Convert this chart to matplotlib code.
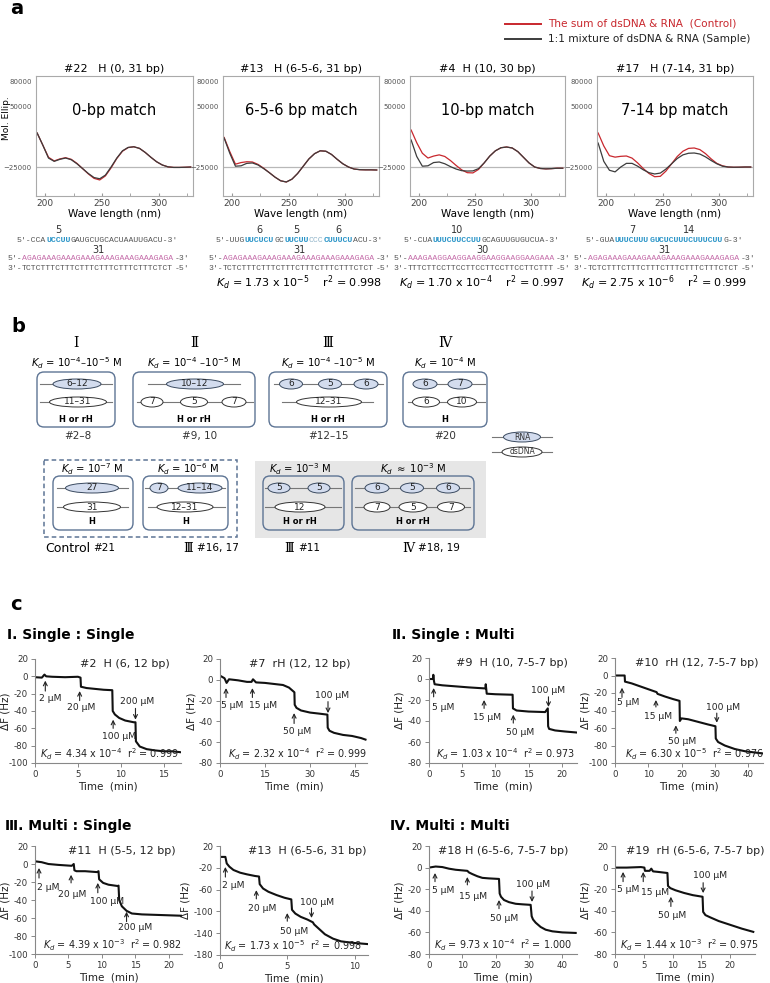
import numpy as np
import matplotlib.pyplot as plt
from matplotlib.patches import Ellipse, FancyBboxPatch, Rectangle

plt.rcParams['axes.unicode_minus'] = False

W, H = 770, 983
RED = '#c8272d'
DARK = '#3c3c3c'
BLUE_TXT = '#2b95c8'
PINK = '#c46aa8'
GRAY_TXT = '#555555'
BOX_EDGE = '#5d7494'
RNA_FILL = '#d3dcee'
ROMAN = ['DejaVu Serif', 'Noto Sans CJK JP']

# ---- panel a : CD spectra ----
wl = [193, 198, 203, 208, 213, 218, 223, 228, 233, 238, 243, 248, 253, 258,
      263, 268, 273, 278, 283, 288, 293, 298, 303, 308, 313, 318, 323, 328]
cd1_red = [17000, 2000, -13000, -17500, -15000, -13500, -15500, -20500, -27000, -33500, -39000, -41000, -36000, -26000,
           -14500, -5500, -1000, 0, -2000, -7000, -13000, -18500, -22500, -24800, -25500, -25500, -25300, -25000]
cd1_blk = [17000, 2000, -14000, -18000, -15500, -13900, -16000, -21000, -27000, -33000, -38000, -39500, -35000, -25000,
           -14000, -5000, -800, 0, -2000, -7000, -13000, -18500, -22500, -24800, -25500, -25500, -25300, -25000]
cd2_red = [11500, -6000, -21500, -19500, -18500, -18800, -21800, -26500, -32000, -37500, -42000, -43500, -40000, -33000,
           -24000, -15000, -8500, -5000, -5500, -9500, -15500, -21000, -25000, -27500, -28300, -28500, -28500, -28700]
cd2_blk = [10800, -8000, -24000, -23500, -20500, -20000, -22500, -27000, -32000, -37500, -42000, -43500, -40000, -33000,
           -24000, -15000, -8500, -5000, -5500, -9500, -15500, -21000, -25000, -27500, -28300, -28500, -28500, -28700]
cd3_red = [20700, 5000, -8000, -13900, -11500, -10000, -12000, -17000, -23000, -28500, -32000, -32300, -28000, -20000,
           -11500, -5000, -1200, -300, -1500, -6000, -13000, -20000, -25000, -26800, -27300, -27000, -26500, -26500]
cd3_blk = [8400, -12000, -24000, -23500, -19500, -18800, -21000, -24500, -27500, -29500, -30000, -29800, -27000, -20000,
           -11500, -5000, -1200, -300, -1500, -6000, -13000, -20000, -25000, -26800, -27300, -27000, -26500, -26500]
cd4_red = [17000, 1000, -11000, -12800, -11800, -11400, -14000, -20000, -27000, -33000, -37000, -36500, -30000, -21000,
           -12000, -5500, -2000, -1500, -3500, -8500, -15000, -20500, -23500, -25000, -25300, -25200, -25000, -25000]
cd4_blk = [4600, -18000, -29000, -31000, -25000, -20500, -20500, -24000, -28500, -32000, -33600, -32500, -27500, -21000,
           -14500, -10000, -8000, -7700, -9000, -12500, -17000, -21000, -24000, -25000, -25300, -25200, -25000, -25000]
cd_titles = ['#22   H (0, 31 bp)', '#13   H (6-5-6, 31 bp)', '#4  H (10, 30 bp)', '#17   H (7-14, 31 bp)']
cd_match = ['0-bp match', '6-5-6 bp match', '10-bp match', '7-14 bp match']
cd_kd = [None, ('1.73', '-5', '0.998'), ('1.70', '-4', '0.997'), ('2.75', '-6', '0.999')]

P31 = 'AGAGAAAGAAAGAAAGAAAGAAAGAAAGAGA'
T31 = 'TCTCTTTCTTTCTTTCTTTCTTTCTTTCTCT'
P30 = 'AAAGAAGGAAGGAAGGAAGGAAGGAAGAAA'
T30 = 'TTTCTTCCTTCCTTCCTTCCTTCCTTCTTT'
rna_seqs = [
    [("5'-CCA", 'g'), ('UCCUU', 'b'), ("GAUGCUGCACUAAUUGACU-3'", 'g')],
    [("5'-UUG", 'g'), ('UUCUCU', 'b'), ('GC', 'g'), ('UUCUU', 'b'), ('CCC', 'l'), ('CUUUCU', 'b'), ("ACU-3'", 'g')],
    [("5'-CUA", 'g'), ('UUUCUUCCUU', 'b'), ("GCAGUUGUGUCUA-3'", 'g')],
    [("5'-GUA", 'g'), ('UUUCUUU', 'b'), ('G', 'b'), ('UCUCUUUCUUUCUU', 'b'), ("G-3'", 'g')],
]
rna_marks = [[(1, '5')], [(1, '6'), (3, '5'), (5, '6')], [(1, '10')], [(1, '7'), (3, '14')]]
pur_seqs = [P31, P31, P30, P31]
pyr_seqs = [T31, T31, T30, T31]

# ---- panel c : QCM traces ----
t_2 = [0, 0.8, 1.1, 1.3, 2, 3.5, 5, 5.3, 5.35, 6, 7, 8, 9.0, 9.05, 9.3, 9.8, 10.5, 11.5, 11.7, 11.75, 12.2, 13, 14, 15, 16, 16.9]
f_2 = [-1, -1.5, 2, 0, -0.5, -1, -0.5, -1.5, -12, -13.5, -14.5, -15.5, -16, -40, -44, -48, -51, -53, -53, -75, -81, -84, -85.5, -86.5, -86.5, -87.5]
t_7 = [0, 1.5, 2.2, 3, 6, 9, 10.5, 11, 12, 15, 18, 21, 23, 24.8, 24.9, 25.5, 27, 30, 33, 35.8, 35.9, 36.5, 38, 41, 44, 47, 48.5]
f_7 = [4, 1.5, -3, 0.5, -0.5, -2, -2, 0.5, -2.5, -3, -4, -5, -7.5, -12, -24, -27, -29.5, -31.5, -32.5, -33.5, -46, -49, -51, -53, -54, -56, -57.5]
t_9 = [0, 0.6, 0.65, 0.75, 0.85, 2, 4, 6, 8.5, 8.55, 8.7, 10, 12.6, 12.65, 13.2, 15, 17.5, 17.9, 17.95, 18.1, 19, 20.5, 22.3]
f_9 = [0, 0, 4, -2, -5, -6, -7, -8, -9, -5, -14, -14.5, -15, -28, -30, -31, -31.5, -28, -45, -47.5, -49, -50, -51]
t_10 = [0, 2.9, 3.0, 5, 8, 11, 12.5, 12.8, 15, 17.5, 19.4, 19.5, 20, 22, 25, 28, 30.2, 30.3, 31, 33, 36, 39, 42, 44.3]
f_10 = [0, 0, -7, -9, -13, -17, -19, -21, -24, -27, -29, -52, -49, -50, -53, -56, -58, -72, -76, -80, -84, -86.5, -88, -89]
t_11 = [0, 1, 2, 3.5, 5.5, 5.8, 5.9, 6.2, 7.5, 9.3, 9.5, 9.6, 10.2, 11, 12.4, 12.5, 12.6, 13, 13.7, 14.5, 16, 18, 20, 22]
f_11 = [3, 2, 0, -1, -2, 0, -7, -8, -8, -9, -8, -17, -21, -23, -24.5, -24, -40, -47, -52, -55, -56, -56.5, -57, -57.5]
t_13 = [0, 0.4, 0.5, 0.7, 1, 1.5, 2, 2.6, 2.9, 2.95, 3.2, 3.6, 4.2, 4.8, 5.3, 5.35, 5.6, 6, 6.5, 6.9, 7.0, 7.4, 7.8, 8.4, 9, 10, 11]
f_13 = [0, 0, -12, -18, -24, -29, -32, -35, -36, -50, -58, -64, -70, -75, -78, -97, -104, -110, -115, -120, -124, -133, -142, -150, -155, -158, -160]
t_18 = [0, 2, 4, 6, 8, 11.5, 12, 13, 14.5, 16, 18, 21, 21.2, 21.6, 22.5, 24, 26, 28, 30.5, 30.8, 31.2, 32, 33.5, 35, 37, 40, 44]
f_18 = [0, 1, 0.5, -1, -2, -3, -4.5, -6, -8, -9.5, -10, -10.5, -24, -27, -30, -32, -33.5, -34, -34.5, -45, -48, -51, -55, -57.5, -59, -60, -60.5]
t_19 = [0, 2, 4.5, 5.1, 5.2, 6.0, 6.3, 6.6, 7.5, 9.1, 9.2, 9.6, 10.5, 12, 13.5, 15.2, 15.3, 15.7, 16.5, 18, 20, 22, 24]
f_19 = [0, 0, 0.5, 0, -3, -3, -1, -3.5, -4, -5, -17, -19, -21, -23.5, -25.5, -27, -41, -44, -46, -49.5, -53, -56.5, -59.5]

# (label, arrow x, tip y, tail y, label x, label y)
arr_2 = [('2 µM', 1.2, -5, -17, 1.8, -26), ('20 µM', 5.2, -17, -28, 5.4, -36),
         ('100 µM', 9.1, -50, -60, 9.8, -69), ('200 µM', 11.7, -50, -37, 11.9, -29)]
arr_7 = [('5 µM', 2.0, -8, -17, 4.0, -25), ('15 µM', 10.8, -8, -17, 14.5, -25),
         ('50 µM', 24.7, -32, -42, 25.6, -50), ('100 µM', 36.0, -32, -21, 37.3, -15)]
arr_9 = [('5 µM', 0.7, -8.6, -17, 2.1, -26.7), ('15 µM', 8.3, -20, -28, 8.8, -37),
         ('50 µM', 12.7, -34, -42, 13.8, -51), ('100 µM', 18.0, -26.6, -17, 17.9, -10.5)]
arr_10 = [('5 µM', 2.1, -14, -25, 3.9, -31), ('15 µM', 12.3, -28, -36, 12.9, -47),
          ('50 µM', 18.3, -57, -66, 20.1, -75), ('100 µM', 30.6, -54, -43, 32.4, -36)]
arr_11 = [('2 µM', 0.6, -4.4, -15.6, 2.0, -25.6), ('20 µM', 5.4, -12, -21, 5.5, -34),
          ('100 µM', 9.4, -21, -32, 10.8, -42), ('200 µM', 13.7, -53, -64, 15.0, -71)]
arr_13 = [('2 µM', 0.4, -18.5, -37, 0.95, -53), ('20 µM', 2.7, -61, -77, 3.1, -94),
          ('50 µM', 5.0, -103, -118, 5.5, -136), ('100 µM', 6.8, -112, -94, 7.2, -83)]
arr_18 = [('5 µM', 1.8, -5, -13, 4.2, -21), ('15 µM', 11.5, -8.7, -16, 13.3, -27),
          ('50 µM', 21.0, -30, -38, 22.4, -46.7), ('100 µM', 30.9, -31.8, -21.7, 31.2, -16)]
arr_19 = [('5 µM', 1.4, -4, -13, 2.3, -20), ('15 µM', 4.9, -4, -13, 7.0, -23),
          ('50 µM', 9.7, -27, -36, 9.9, -44), ('100 µM', 15.3, -23.6, -14, 16.5, -7)]

fig = plt.figure(figsize=(W / 100, H / 100), dpi=100)
fig.patch.set_facecolor('white')

# overlay in pixel coordinates, drawn above the plot axes
ov = fig.add_axes([0, 0, 1, 1])
ov.set_xlim(0, W)
ov.set_ylim(H, 0)
ov.axis('off')
ov.set_zorder(10)


def px_axes(l, t, r, b):
    return fig.add_axes([l / W, 1 - b / H, (r - l) / W, (b - t) / H])


# panel labels
for lab, x, y in [('a', 17, 8), ('b', 18, 327), ('c', 16, 605)]:
    ov.text(x, y, lab, fontsize=14, fontweight='bold', ha='center', va='center')

# legend of panel a
ov.plot([505, 541], [24, 24], color=RED, lw=1.4)
ov.plot([505, 541], [39, 39], color=DARK, lw=1.4)
ov.text(548, 24, 'The sum of dsDNA & RNA  (Control)', color=RED, fontsize=7.6, va='center')
ov.text(548, 39, '1:1 mixture of dsDNA & RNA (Sample)', color='#222222', fontsize=7.6, va='center')

cd_red = [cd1_red, cd2_red, cd3_red, cd4_red]
cd_blk = [cd1_blk, cd2_blk, cd3_blk, cd4_blk]
cd_boxes = [(36, 76, 193, 196), (223, 76, 379, 196), (410, 76, 565, 196), (597, 76, 753, 196)]
for i in range(4):
    ax = px_axes(*cd_boxes[i])
    ax.axhline(-25000, color='#b8b8b8', lw=0.9, zorder=0)
    ax.plot(wl, cd_red[i], color=RED, lw=0.9)
    ax.plot(wl, cd_blk[i], color=DARK, lw=0.9)
    ax.set_xlim(192, 330)
    ax.set_ylim(-60800, 87400)
    ax.set_yticks([80000, 50000, -25000])
    ax.set_yticklabels(['80000', '50000', '\u221225000'], fontsize=5, color='#555555')
    ax.tick_params(axis='y', length=0, pad=3)
    ax.set_xticks([200, 250, 300])
    ax.set_xticks([225, 275, 325], minor=True)
    ax.tick_params(axis='x', which='both', direction='in', length=2, pad=2, labelsize=6.5,
                   labelcolor='#444444', color='#999999')
    for s in ax.spines.values():
        s.set_color('#aaaaaa')
        s.set_linewidth(0.8)
    ax.set_xlabel('Wave length (nm)', fontsize=7.5, labelpad=1)
    ax.set_title(cd_titles[i], fontsize=8, pad=3)
    ax.text(0.5, 0.71, cd_match[i], transform=ax.transAxes, ha='center', va='center', fontsize=10.5)
ov.text(7, 118, 'Mol. Ellip.', rotation=90, fontsize=6.5, ha='center', va='center')

# sequences
SEQ_FS = 5.9
CW = 0.6 * SEQ_FS * 100 / 72
col_map = {'g': GRAY_TXT, 'b': BLUE_TXT, 'l': '#8fb3c8', 'p': PINK}


def seq_line(cx, y, segs):
    n = sum(len(s) for s, _ in segs)
    x = cx - n * CW / 2
    centers = []
    for s, c in segs:
        ov.text(x, y, s, fontsize=SEQ_FS, family='Liberation Mono', color=col_map[c],
                ha='left', va='center', fontweight='bold' if c == 'b' else 'normal')
        centers.append(x + len(s) * CW / 2)
        x += len(s) * CW
    return centers


seq_cx = [98, 299, 482, 664]
for i in range(4):
    cx = seq_cx[i]
    centers = seq_line(cx, 240, rna_seqs[i])
    for k, lab in rna_marks[i]:
        ov.text(centers[k], 230, lab, fontsize=7, ha='center', va='center', color='#333333')
    pc = seq_line(cx, 258, [("5'-", 'g'), (pur_seqs[i], 'p'), ("-3'", 'g')])
    ov.text(pc[1], 250, str(len(pur_seqs[i])), fontsize=7, ha='center', va='center', color='#333333')
    seq_line(cx, 268, [("3'-", 'g'), (pyr_seqs[i], 'g'), ("-5'", 'g')])
    if cd_kd[i] is not None:
        m, e, r = cd_kd[i]
        ov.text(cx, 283, r'$K_d$ = %s x 10$^{%s}$    r$^2$ = %s' % (m, e, r),
                fontsize=8, ha='center', va='center')

# ---- panel b : schemes ----


def rbox(l, t, r, b, fill='white'):
    ov.add_patch(FancyBboxPatch((l, t), r - l, b - t, boxstyle='round,pad=0,rounding_size=7',
                                fc=fill, ec=BOX_EDGE, lw=1.0, zorder=2))


def strand(x0, x1, y, ells, rna):
    ov.plot([x0, x1], [y, y], color='#777777', lw=0.8, zorder=3)
    for cx, w, lab in ells:
        ov.add_patch(Ellipse((cx, y), w, 10, fc=RNA_FILL if rna else 'white',
                             ec='#3a4a60' if rna else '#333333', lw=0.7, zorder=4))
        ov.text(cx, y, lab, fontsize=6.5, ha='center', va='center', zorder=5, color='#222222')


def kd_head(x, y, exp, approx=False):
    sym = r'$\approx$' if approx else '='
    ov.text(x, y, r'$K_d$ %s 10$^{%s}$ M' % (sym, exp), fontsize=7.2, ha='center', va='center')


# top row
top_heads = [('Ⅰ', 76, '-4}$\u201310$^{-5'), ('Ⅱ', 194, '-4}$ \u201310$^{-5'),
             ('Ⅲ', 328, '-4}$ \u201310$^{-5'), ('Ⅳ', 445, '-4')]
for num, x, ex in top_heads:
    ov.text(x, 343, num, fontsize=10, family=ROMAN, ha='center', va='center')
    kd_head(x, 363, ex)

rbox(37, 372, 115, 427)
strand(40, 112, 384, [(77, 48, '6\u201312')], True)
strand(40, 112, 402, [(78, 57, '11\u201331')], False)
rbox(133, 372, 255, 427)
strand(148, 240, 384, [(195, 57, '10\u201312')], True)
strand(137, 253, 402, [(152, 22, '7'), (194, 27, '5'), (234, 24, '7')], False)
rbox(269, 372, 387, 427)
strand(274, 383, 384, [(291, 23, '6'), (330, 23, '5'), (366, 24, '6')], True)
strand(282, 373, 402, [(329, 65, '12\u201331')], False)
rbox(403, 372, 487, 427)
strand(413, 485, 384, [(425, 24, '6'), (460, 24, '7')], True)
strand(408, 485, 402, [(426, 27, '6'), (462, 29, '10')], False)
for x, foot in [(76, 'H or rH'), (194, 'H or rH'), (328, 'H or rH'), (445, 'H')]:
    ov.text(x, 419, foot, fontsize=6, fontweight='bold', ha='center', va='center', zorder=5)
for x, lab in [(78, '#2\u20138'), (200, '#9, 10'), (328, '#12\u201315'), (445, '#20')]:
    ov.text(x, 436, lab, fontsize=7.5, ha='center', va='center', color='#333333')

# legend of scheme
strand(492, 552, 437, [(522, 37, '')], True)
strand(492, 552, 452, [(522, 40, '')], False)
ov.text(522, 437, 'RNA', fontsize=5.5, ha='center', va='center', zorder=6, color='#333333')
ov.text(522, 452, 'dsDNA', fontsize=5.5, ha='center', va='center', zorder=6, color='#333333')

# bottom row
ov.add_patch(Rectangle((44, 460), 193, 77, fc='none', ec=BOX_EDGE, lw=1.1, ls=(0, (3, 2)), zorder=2))
ov.add_patch(Rectangle((255, 461), 231, 77, fc='#e6e6e6', ec='none', zorder=1))
kd_head(92, 469, '-7')
kd_head(188, 469, '-6')
kd_head(300, 469, '-3')
kd_head(413, 469, '-3', approx=True)
rbox(53, 476, 133, 530)
strand(57, 128, 488, [(92, 53, '27')], True)
strand(57, 128, 507, [(92, 57, '31')], False)
rbox(143, 476, 228, 530)
strand(145, 225, 488, [(159, 18, '7'), (200, 44, '11\u201314')], True)
strand(148, 225, 507, [(185, 56, '12\u201331')], False)
rbox(263, 476, 344, 530, fill='#e6e6e6')
strand(265, 341, 488, [(279, 22, '5'), (319, 22, '5')], True)
strand(265, 341, 507, [(300, 50, '12')], False)
rbox(352, 476, 474, 530, fill='#e6e6e6')
strand(355, 470, 488, [(377, 24, '6'), (412, 23, '5'), (448, 23, '6')], True)
strand(355, 470, 507, [(377, 26, '7'), (413, 28, '5'), (451, 27, '7')], False)
for x, foot in [(92, 'H'), (186, 'H'), (300, 'H or rH'), (413, 'H or rH')]:
    ov.text(x, 522, foot, fontsize=6, fontweight='bold', ha='center', va='center', zorder=5)
ov.text(90, 548, 'Control', fontsize=9, ha='right', va='center')
ov.text(93, 548, '#21', fontsize=7.5, ha='left', va='center')
for x, num, lab in [(197, 'Ⅲ', '#16, 17'), (298, 'Ⅲ', '#11'), (418, 'Ⅳ', '#18, 19')]:
    ov.text(x - 4, 548, num, fontsize=9, family=ROMAN, ha='right', va='center')
    ov.text(x, 548, lab, fontsize=7.5, ha='left', va='center')

# ---- panel c ----
for txt, x, y in [('Ⅰ. Single : Single', 7, 635), ('Ⅱ. Single : Multi', 392, 635),
                  ('Ⅲ. Multi : Single', 5, 826), ('Ⅳ. Multi : Multi', 390, 826)]:
    ov.text(x, y, txt, fontsize=10, fontweight='bold', ha='left', va='center',
            family=['DejaVu Sans', 'Noto Sans CJK JP'])

qcm = [
    (t_2, f_2, arr_2, (35, 659, 181, 763), (0, 17), (-100, 20), [20, 0, -20, -40, -60, -80, -100], [0, 5, 10, 15],
     '#2  H (6, 12 bp)', 125, ('4.34', '-4', '0.999'), 40),
    (t_7, f_7, arr_7, (220, 659, 367, 763), (0, 49), (-80, 20), [20, 0, -20, -40, -60, -80], [0, 15, 30, 45],
     '#7  rH (12, 12 bp)', 300, ('2.32', '-4', '0.999'), 228),
    (t_9, f_9, arr_9, (429, 658, 577, 763), (0, 22.3), (-80, 20), [20, 0, -20, -40, -60, -80], [0, 5, 10, 15, 20],
     '#9  H (10, 7-5-7 bp)', 512, ('1.03', '-4', '0.973'), 436),
    (t_10, f_10, arr_10, (615, 658, 763, 763), (0, 44.5), (-100, 20), [20, 0, -20, -40, -60, -80, -100],
     [0, 10, 20, 30, 40], '#10  rH (12, 7-5-7 bp)', 697, ('6.30', '-5', '0.976'), 625),
    (t_11, f_11, arr_11, (35, 846, 182, 954), (0, 22), (-100, 20), [20, 0, -20, -40, -60, -80, -100],
     [0, 5, 10, 15, 20], '#11  H (5-5, 12 bp)', 122, ('4.39', '-3', '0.982'), 43),
    (t_13, f_13, arr_13, (220, 846, 368, 955), (0, 11), (-180, 20), [20, -20, -60, -100, -140, -180], [0, 5, 10],
     '#13  H (6-5-6, 31 bp)', 307, ('1.73', '-5', '0.998'), 224),
    (t_18, f_18, arr_18, (429, 846, 577, 954), (0, 44.4), (-80, 20), [20, 0, -20, -40, -60, -80],
     [0, 10, 20, 30, 40], '#18 H (6-5-6, 7-5-7 bp)', 503, ('9.73', '-4', '1.000'), 434),
    (t_19, f_19, arr_19, (615, 846, 755, 954), (0, 24.3), (-80, 20), [20, 0, -20, -40, -60, -80],
     [0, 5, 10, 15, 20], '#19  rH (6-5-6, 7-5-7 bp)', 695, ('1.44', '-3', '0.975'), 620),
]

for t, f, arrs, box, xl, yl, yt, xt, title, tx, kd, kx in qcm:
    ax = px_axes(*box)
    ax.plot(t, f, color='#111111', lw=1.5)
    ax.set_xlim(*xl)
    ax.set_ylim(*yl)
    ax.set_yticks(yt)
    ax.set_xticks(xt)
    ax.tick_params(labelsize=6.2, length=3, width=0.7, color='#888888', labelcolor='#333333', pad=2)
    for s in ['top', 'right']:
        ax.spines[s].set_visible(False)
    for s in ['left', 'bottom']:
        ax.spines[s].set_color('#888888')
        ax.spines[s].set_linewidth(0.8)
    ax.set_xlabel('Time  (min)', fontsize=7.5, labelpad=2, color='#222222')
    gap = 34 if min(yt) <= -140 else 29
    ov.text(box[0] - gap, (box[1] + box[3]) / 2, '\u0394F (Hz)', rotation=90, fontsize=7.5,
            ha='center', va='center', color='#222222')
    for lab, xa, ytip, ytail, lx, ly in arrs:
        ax.annotate('', xy=(xa, ytip), xytext=(xa, ytail),
                    arrowprops=dict(arrowstyle='->', lw=0.8, color='#222222', shrinkA=0, shrinkB=0,
                                    mutation_scale=7))
        ax.text(lx, ly, lab, fontsize=6.6, ha='center', va='center', color='#222222')
    ov.text(tx, box[1] + 5, title, fontsize=8, ha='center', va='center', color='#222222')
    m, e, r = kd
    ov.text(kx, box[3] - 9, r'$K_d$ = %s x 10$^{%s}$  r$^2$ = %s' % (m, e, r),
            fontsize=6.9, ha='left', va='center', color='#222222')

fig.savefig('out.png', dpi=100, facecolor='white')
